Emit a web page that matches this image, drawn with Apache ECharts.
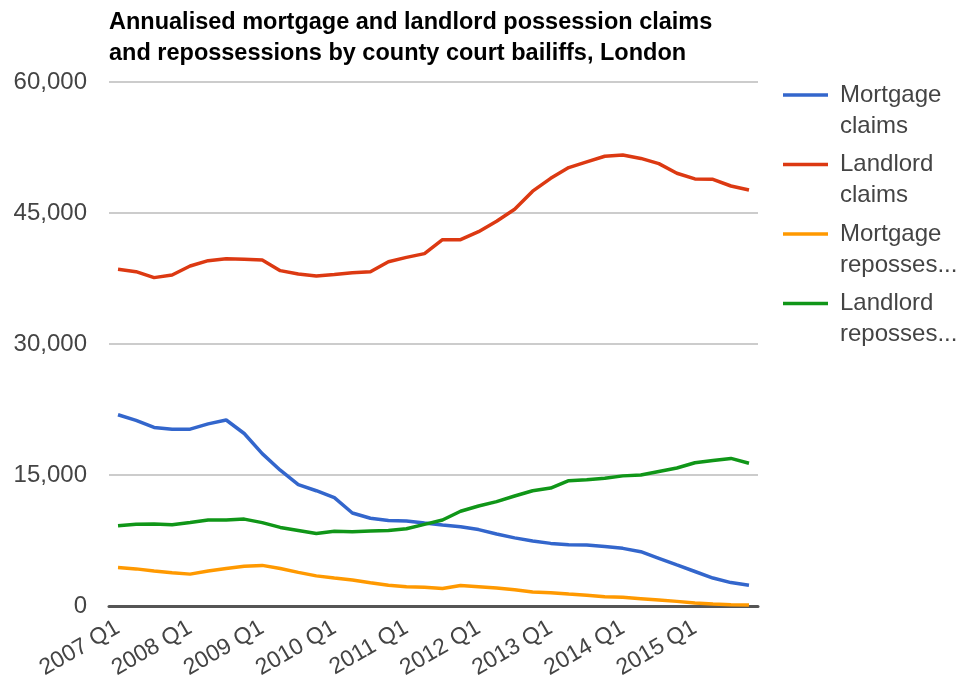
<!DOCTYPE html>
<html>
<head>
<meta charset="utf-8">
<script src="https://cdn.jsdelivr.net/npm/echarts@6/dist/echarts.min.js"></script>
<style>
html,body{margin:0;padding:0;background:#fff;}
#chart{width:963px;height:688px;}
</style>
</head>
<body>
<div id="chart"></div>
<script>
// Quarters 2007 Q1 .. 2015 Q4
const quarters = [];
for (let y = 2007; y <= 2015; y++) { for (let q = 1; q <= 4; q++) quarters.push(y + ' Q' + q); }

const seriesNames = ['Mortgage claims', 'Landlord claims', 'Mortgage repossessions', 'Landlord repossessions'];
const legendLabels = ['Mortgage\nclaims', 'Landlord\nclaims', 'Mortgage\nreposses...', 'Landlord\nreposses...'];

const mortgageClaims = [21900, 21250, 20450, 20250, 20250, 20850, 21300, 19750, 17450, 15550, 13900, 13200,
  12400, 10650, 10050, 9800, 9730, 9500, 9280, 9080, 8750, 8250, 7800, 7450,
  7170, 7000, 6980, 6800, 6600, 6220, 5460, 4700, 3950, 3200, 2680, 2370];

const landlordClaims = [38550, 38280, 37600, 37900, 38930, 39540, 39770, 39700, 39620, 38400, 38010, 37790,
  37950, 38150, 38280, 39420, 39920, 40350, 41950, 41950, 42860, 44050, 45420, 47500,
  48970, 50200, 50850, 51500, 51650, 51250, 50650, 49550, 48900, 48860, 48090, 47630];

const mortgageRepossessions = [4400, 4250, 4000, 3800, 3650, 4000, 4300, 4550, 4650, 4300, 3850, 3450,
  3200, 2980, 2670, 2370, 2200, 2150, 2000, 2350, 2200, 2050, 1850, 1600,
  1530, 1370, 1220, 1070, 990, 840, 690, 530, 340, 230, 150, 110];

const landlordRepossessions = [9200, 9350, 9400, 9300, 9550, 9850, 9850, 9950, 9550, 9000, 8650, 8300,
  8550, 8500, 8580, 8650, 8850, 9350, 9850, 10850, 11450, 11950, 12600, 13200,
  13500, 14350, 14450, 14620, 14900, 15000, 15400, 15800, 16400, 16650, 16900, 16350];

const yTicks = [0, 15000, 30000, 45000, 60000];
const colors = ['#3366CC', '#DC3912', '#FF9900', '#109618'];
const values = [mortgageClaims, landlordClaims, mortgageRepossessions, landlordRepossessions];

const FONT = '"Liberation Sans", Arial, sans-serif';
const legendTops = [48.5, 118, 187.5, 257];

const chart = echarts.init(document.getElementById('chart'), null, {renderer: 'canvas'});
chart.setOption({
  animation: false,
  backgroundColor: '#fff',
  color: colors,
  title: {
    text: 'Annualised mortgage and landlord possession claims\nand repossessions by county court bailiffs, London',
    left: 109, top: 7, padding: 0,
    textStyle: {fontFamily: FONT, fontWeight: 'bold', fontSize: 23.5, lineHeight: 31, color: '#000'}
  },
  legend: seriesNames.map((n, i) => ({
    data: [n],
    orient: 'vertical',
    left: 783, top: legendTops[i], padding: 0,
    icon: 'rect', itemWidth: 45, itemHeight: 3.5,
    formatter: () => '\n' + legendLabels[i],
    textStyle: {fontFamily: FONT, fontSize: 24, lineHeight: 31, color: '#444', padding: [0, 0, 0, 7]}
  })),
  grid: {left: 109, right: 205, top: 82, bottom: 82},
  xAxis: {
    type: 'category', data: quarters, boundaryGap: true,
    axisLine: {show: true, lineStyle: {color: '#555', width: 3}},
    axisTick: {show: false},
    axisLabel: {interval: 3, rotate: 30, margin: 20, fontFamily: FONT, fontSize: 23, color: '#444'}
  },
  yAxis: {
    type: 'value', min: yTicks[0], max: yTicks[yTicks.length - 1], interval: 15000,
    axisLine: {show: false}, axisTick: {show: false},
    splitLine: {lineStyle: {color: '#ccc', width: 2}},
    axisLabel: {margin: 22, fontFamily: FONT, fontSize: 24, color: '#444',
      formatter: v => v.toLocaleString('en-US')}
  },
  series: seriesNames.map((n, i) => ({
    name: n, type: 'line', data: values[i],
    symbol: 'none', showSymbol: false,
    lineStyle: {width: 3.5, color: colors[i]},
    itemStyle: {color: colors[i]}
  }))
});
</script>
</body>
</html>
